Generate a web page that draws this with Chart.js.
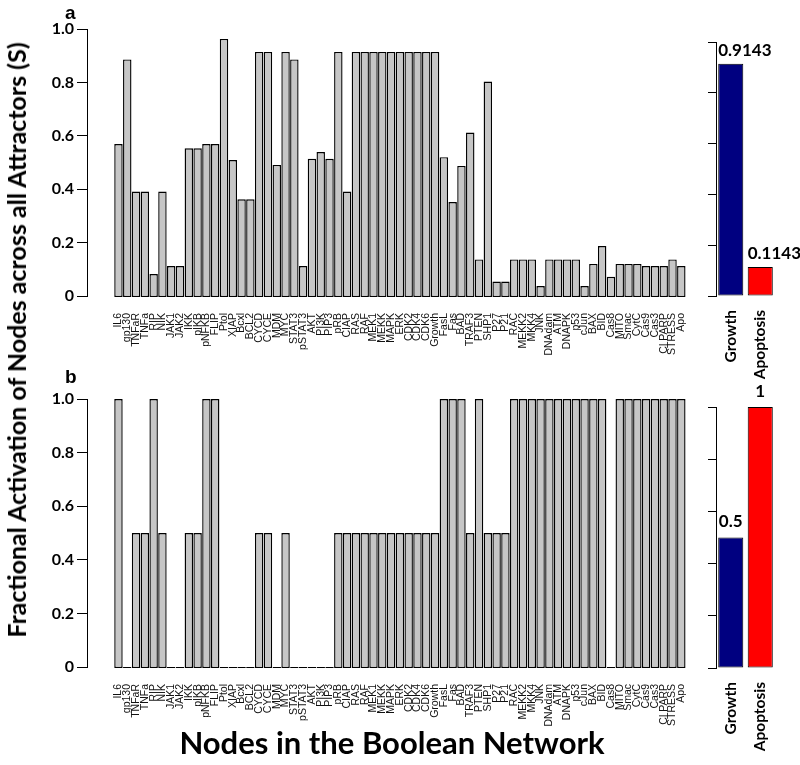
<!DOCTYPE html>
<html>
<head>
<meta charset="utf-8">
<script src="https://cdn.jsdelivr.net/npm/chart.js@4.4.0/dist/chart.umd.min.js"></script>
<style>
  body { margin: 0; background: #fff; }
  #wrap { position: relative; width: 800px; height: 765px; font-family: Lato, sans-serif; }
  canvas { position: absolute; }
  .txt { position: absolute; font-weight: bold; color: #000; white-space: nowrap; }
</style>
</head>
<body>
<div id="wrap">
  <canvas id="mainA" style="left:30px;top:0px" width="673" height="371"></canvas>
  <canvas id="mainB" style="left:30px;top:370px" width="673" height="372"></canvas>
  <canvas id="sideA" style="left:705px;top:0px" width="95" height="392"></canvas>
  <canvas id="sideB" style="left:705px;top:370px" width="95" height="394"></canvas>
  <div class="txt" style="left:65px;top:2px;font:bold 19px 'Liberation Sans'">a</div>
  <div class="txt" style="left:65px;top:366px;font:bold 19px 'Liberation Sans'">b</div>
  <div class="txt" style="left:16px;top:340px;font-size:25px;transform:translate(-50%,-50%) rotate(-90deg)">Fractional Activation of Nodes across all Attractors (S)</div>
  <div class="txt" style="left:392px;top:742px;font-size:31px;transform:translate(-50%,-50%)">Nodes in the Boolean Network</div>
</div>
<script>
// Noms des noeuds du reseau booleen
const nodes = ["IL6", "gp130", "TNFaR", "TNFa", "RIP", "NIK", "JAK1", "JAK2", "IKK", "pIKB",
  "pNFKB", "FLIP", "Ptol", "XIAP", "Bcxl", "BCL2", "CYCD", "CYCE", "MDM", "MYC",
  "STAT3", "pSTAT3", "AKT", "PI3K", "PIP3", "pRB", "CIAP", "RAS", "RAF", "MEK1",
  "MEKK", "MAPK", "ERK", "CDK2", "CDK4", "CDK6", "Growth", "FasL", "Fas", "BAD",
  "TRAF3", "PTEN", "SHP1", "P27", "P21", "RAC", "MEKK2", "MKK4", "JNK", "DNAdam",
  "ATM", "DNAPK", "p53", "cJun", "BAX", "BID", "Cas8", "MITO", "Smac", "CytC",
  "Cas9", "Cas3", "Cl PARP", "STRESS", "Apo"];

// Panel a : activation fractionnelle
const valuesA = [0.569, 0.886, 0.391, 0.391, 0.082, 0.391, 0.112, 0.112, 0.553, 0.553,
  0.569, 0.569, 0.963, 0.509, 0.362, 0.362, 0.914, 0.914, 0.491, 0.914,
  0.886, 0.112, 0.514, 0.539, 0.514, 0.914, 0.391, 0.914, 0.914, 0.914,
  0.914, 0.914, 0.914, 0.914, 0.914, 0.914, 0.914, 0.52, 0.352, 0.487,
  0.612, 0.137, 0.803, 0.054, 0.054, 0.137, 0.137, 0.137, 0.037, 0.137,
  0.137, 0.137, 0.137, 0.037, 0.12, 0.187, 0.072, 0.12, 0.12, 0.12,
  0.112, 0.112, 0.112, 0.137, 0.112];

// Panel b
const valuesB = [1, 0, 0.5, 0.5, 1, 0.5, 0, 0, 0.5, 0.5,
  1, 1, 0, 0, 0, 0, 0.5, 0.5, 0, 0.5,
  0, 0, 0, 0, 0, 0.5, 0.5, 0.5, 0.5, 0.5,
  0.5, 0.5, 0.5, 0.5, 0.5, 0.5, 0.5, 1, 1, 1,
  0.5, 1, 0.5, 0.5, 0.5, 1, 1, 1, 1, 1,
  1, 1, 1, 1, 1, 1, 0, 1, 1, 1,
  1, 1, 1, 1, 1];

// Phenotypes
const phenotypes = ["Growth", "Apoptosis"];
const phenoA = [0.9143, 0.1143];
const phenoB = [0.5, 1];
const phenoColors = ["#000080", "#ff0000"];

const yTicks = [0, 0.2, 0.4, 0.6, 0.8, 1];

function mainChart(id, values) {
  return new Chart(document.getElementById(id), {
    type: "bar",
    data: {
      datasets: [{
        data: values.map((v, i) => ({ x: i, y: v })),
        backgroundColor: "#c6c6c6",
        borderColor: "#000",
        borderWidth: 1.4,
        borderSkipped: false,
        base: -0.004,
        clip: false,
        barPercentage: 0.96,
        categoryPercentage: 1
      }]
    },
    options: {
      responsive: false,
      animation: false,
      layout: { padding: { top: 29, right: 6, bottom: 0, left: 0 } },
      plugins: { legend: { display: false }, tooltip: { enabled: false } },
      scales: {
        x: {
          type: "linear",
          min: -3.05,
          max: 64.5,
          afterBuildTicks: (s) => { s.ticks = nodes.map((n, i) => ({ value: i })); },
          afterFit: (s) => { s.height = 75; },
          grid: { display: false },
          border: { display: false },
          ticks: {
            autoSkip: false,
            minRotation: 90,
            maxRotation: 90,
            padding: 9,
            color: "#111",
            font: { family: "Liberation Sans", size: 10.5 },
            callback: (v) => nodes[Math.round(v)]
          }
        },
        y: {
          min: 0,
          max: 1,
          afterBuildTicks: (s) => { s.ticks = yTicks.map(v => ({ value: v })); },
          afterFit: (s) => { s.width = 57; },
          grid: { drawOnChartArea: false, tickLength: 10, color: "#000" },
          border: { color: "#000", width: 1 },
          ticks: {
            padding: 3,
            color: "#000",
            font: { family: "Lato", size: 16, weight: "bold" },
            callback: (v) => v === 0 ? "0" : v.toFixed(1)
          }
        }
      }
    }
  });
}

// etiquettes des valeurs au-dessus des barres
const valueLabels = {
  id: "valueLabels",
  afterDatasetsDraw(chart) {
    const ctx = chart.ctx;
    const vals = chart.data.datasets[0].data;
    ctx.save();
    ctx.font = "bold 17px Lato";
    ctx.fillStyle = "#000";
    ctx.textBaseline = "bottom";
    chart.getDatasetMeta(0).data.forEach((bar, i) => {
      const txt = String(vals[i]);
      const w = ctx.measureText(txt).width;
      if (w > bar.width) {
        ctx.textAlign = "left";
        ctx.fillText(txt, bar.x - bar.width / 2, bar.y - 5);
      } else {
        ctx.textAlign = "center";
        ctx.fillText(txt, bar.x, bar.y - 7);
      }
    });
    ctx.restore();
  }
};

function sideChart(id, values, padTop, axisH) {
  return new Chart(document.getElementById(id), {
    type: "bar",
    data: {
      labels: phenotypes,
      datasets: [{
        data: values,
        backgroundColor: phenoColors,
        borderColor: "#000",
        borderWidth: 1,
        borderSkipped: false,
        barPercentage: 0.85,
        categoryPercentage: 1
      }]
    },
    options: {
      responsive: false,
      animation: false,
      layout: { padding: { top: padTop, right: 25, bottom: 0, left: 0 } },
      plugins: { legend: { display: false }, tooltip: { enabled: false } },
      scales: {
        x: {
          offset: true,
          afterFit: (s) => { s.height = axisH; },
          grid: { display: false },
          border: { display: false },
          ticks: {
            minRotation: 90,
            maxRotation: 90,
            padding: 6,
            color: "#000",
            font: { family: "Lato", size: 15.5, weight: "bold" }
          }
        },
        y: {
          min: 0,
          max: 1,
          afterBuildTicks: (s) => { s.ticks = yTicks.map(v => ({ value: v })); },
          afterFit: (s) => { s.width = 11; },
          grid: { drawOnChartArea: false, tickLength: 8, color: "#000" },
          border: { color: "#000", width: 1 },
          ticks: { display: false }
        }
      }
    },
    plugins: [valueLabels]
  });
}

mainChart("mainA", valuesA);
mainChart("mainB", valuesB);
sideChart("sideA", phenoA, 42, 96);
sideChart("sideB", phenoB, 37, 96);
</script>
</body>
</html>
